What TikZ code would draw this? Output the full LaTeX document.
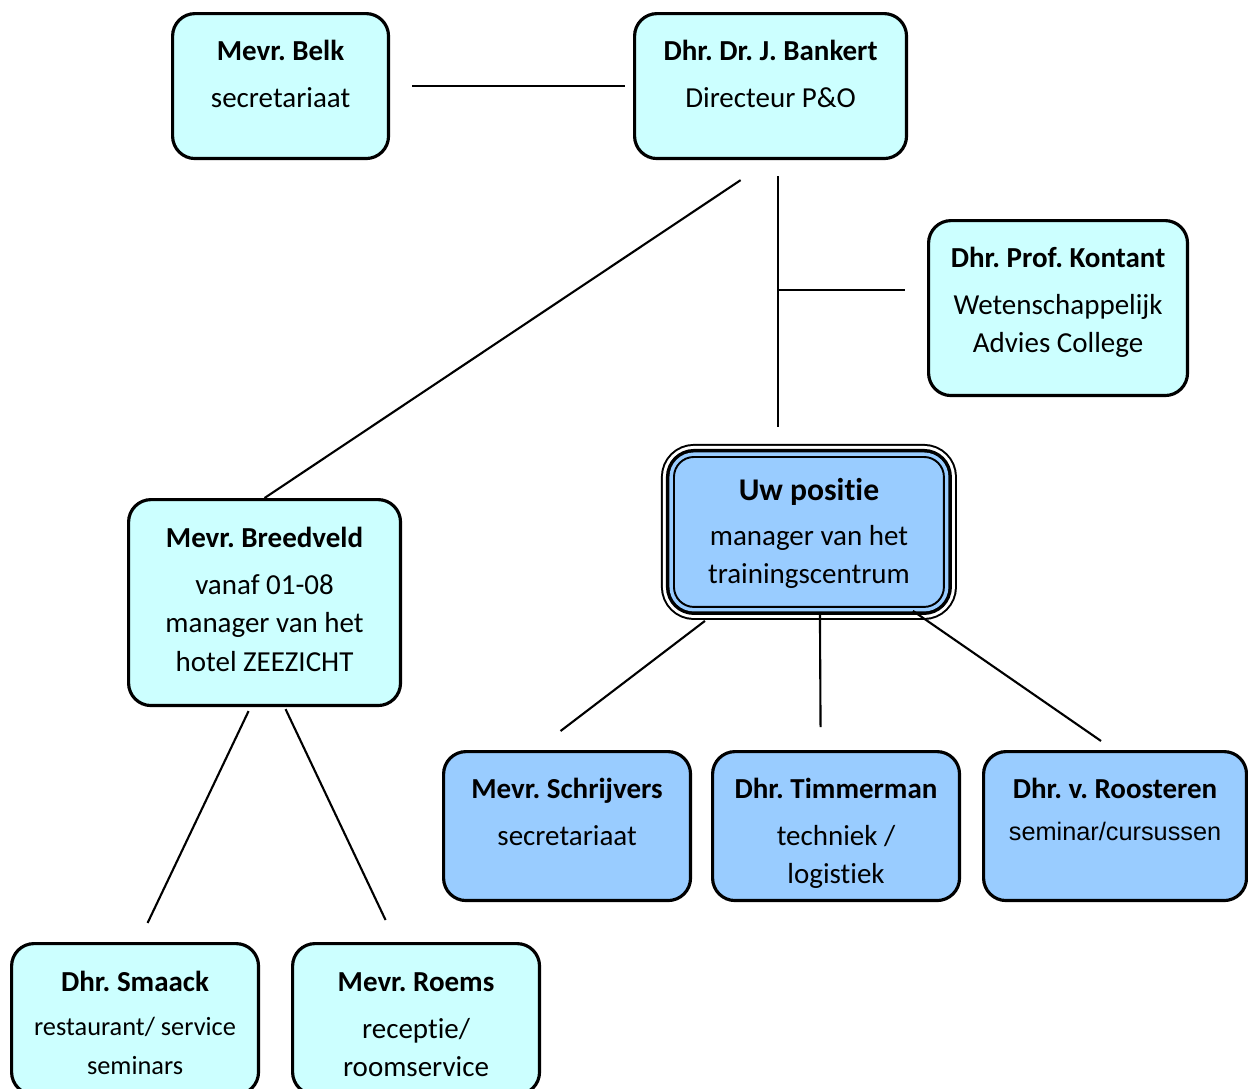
\documentclass[tikz,border=0pt]{standalone}
\usepackage{fontspec}
\setmainfont{Carlito}[Ligatures=NoCommon]
\newfontfamily\arialfont{Liberation Sans}
\usepackage{tikz}
\usetikzlibrary{calc}
\frenchspacing

\definecolor{staffcyan}{HTML}{CCFFFF}
\definecolor{teamblue}{HTML}{99CCFF}

\tikzset{
  staff/.style={draw, line width=1.8pt, rounded corners=0.45cm, fill=staffcyan,
    anchor=north west, align=flush center, inner sep=0pt, text height=0.94cm,
    font=\fontsize{16.5}{22}\selectfont},
  team/.style={staff, fill=teamblue},
  own/.style={team, line width=1.1pt, rounded corners=0.4cm,
    preaction={draw=black, line width=0.52cm},
    preaction={draw=white, line width=0.44cm},
    preaction={draw=black, line width=0.32cm},
    preaction={draw=teamblue, line width=0.18cm}},
  link/.style={draw, line width=1.2pt}
}

\begin{document}
\begin{tikzpicture}[x=0.02cm, y=-0.02cm]
\useasboundingbox (0,0) rectangle (1248,1089);
\clip (0,0) rectangle (1248,1089);

\node[staff, text width=4.32cm, text depth=1.96cm]	(belk)		at (171,12)		{\textbf{Mevr. Belk}\\[4.5pt]secretariaat};
\node[staff, text width=5.44cm, text depth=1.96cm]	(bankert)	at (633,12)		{\textbf{Dhr. Dr. J. Bankert}\\[4.5pt]Directeur P\&O};
\node[staff, text width=5.18cm, text depth=2.56cm]	(kontant)	at (927,219)	{\textbf{Dhr. Prof. Kontant}\\[4.5pt]Wetenschappelijk\\Advies College};
\node[own, text width=5.4cm, text height=0.87cm, text depth=2.13cm]	(uw)	at (673,456)	{{\fontsize{18}{22}\selectfont\bfseries Uw positie}\\[3.5pt]manager van het\\trainingscentrum};
\node[staff, text width=5.44cm, text height=0.96cm, text depth=3.16cm]	(breedveld)	at (127,498)	{\textbf{Mevr. Breedveld}\\[4.5pt]vanaf 01-08\\manager van het\\hotel ZEEZICHT};
\node[team, text width=4.94cm, text depth=2.04cm]	(schrijvers)	at (442,750)	{\textbf{Mevr. Schrijvers}\\[4.5pt]secretariaat};
\node[team, text width=4.94cm, text depth=2.04cm]	(timmerman)	at (711,750)	{\textbf{Dhr. Timmerman}\\[4.5pt]techniek /\\logistiek};
\node[team, text width=5.26cm, text depth=2.04cm]	(roosteren)	at (982,750)	{\textbf{Dhr. v. Roosteren}\\[2pt]{\arialfont\fontsize{14.4}{22}\selectfont seminar/cursussen}};
\node[staff, text width=4.94cm, text height=0.96cm, text depth=2.06cm]	(smaack)	at (10,942)		{\textbf{Dhr. Smaack}\\[5.5pt]\fontsize{15}{19.5}\selectfont restaurant/ service\\seminars};
\node[staff, text width=4.94cm, text height=0.96cm, text depth=2.06cm]	(roems)		at (291,942)	{\textbf{Mevr. Roems}\\[4.5pt]receptie/\\roomservice};

\coordinate (trunk) at ([shift={(7,0)}]bankert.south);
\coordinate (kjoin) at ($(trunk |- kontant.west)+(0,-18)$);

\path[link]
	(belk.east)		edge[shorten <=0.44cm, shorten >=0.16cm]	(bankert.west)
	(bankert.south)	edge[shorten <=0.72cm]	(breedveld.north)
	(trunk)			edge[shorten <=0.32cm, shorten >=0.58cm]	(trunk |- uw.north)
	(kjoin)			edge[shorten >=0.44cm]	(kjoin -| kontant.west)
	([shift={(-104,13)}]uw.south)	edge	([shift={(-6.5,-19)}]schrijvers.north)
	([shift={(11,6)}]uw.south)		edge	([shift={(-15.5,-23)}]timmerman.north)
	([shift={(104,3)}]uw.south)		edge	([shift={(-14,-9)}]roosteren.north)
	([shift={(-16,4)}]breedveld.south)	edge	([shift={(12.5,-19)}]smaack.north)
	([shift={(21,2)}]breedveld.south)	edge	([shift={(-30.5,-22)}]roems.north);
\end{tikzpicture}
\end{document}
